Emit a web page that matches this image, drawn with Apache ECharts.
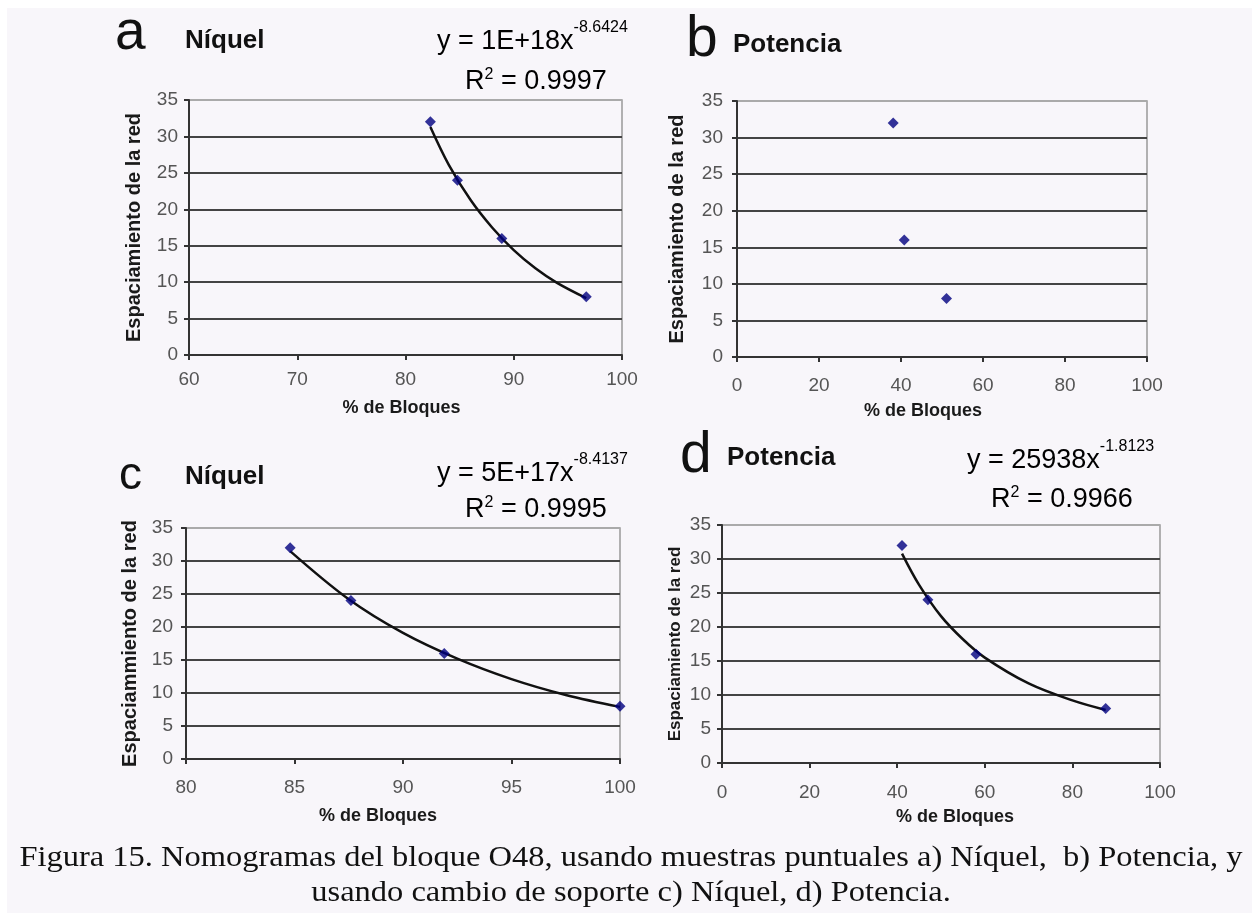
<!DOCTYPE html>
<html>
<head>
<meta charset="utf-8">
<title>Nomogramas del bloque O48</title>
<script src="https://cdn.jsdelivr.net/npm/echarts/dist/echarts.min.js"></script>
<style>
  html, body { margin: 0; padding: 0; background: #fff; }
  #container { width: 1257px; height: 913px; }
</style>
</head>
<body>
<div id="container"></div>
<script>
// a) Níquel - muestras puntuales
var niquelPuntX = [82.3, 84.8, 88.9, 96.7]
var niquelPuntY = [32, 24, 16, 8]
var niquelPuntTrendX = [82.3, 84, 86, 88, 90, 92, 94, 96.7]
var niquelPuntTrendY = [31.3, 26.1, 21.3, 17.5, 14.4, 11.9, 9.9, 7.8]

// b) Potencia - muestras puntuales
var potPuntX = [38.1, 40.8, 51.1]
var potPuntY = [32, 16, 8]

// c) Níquel - cambio de soporte
var niquelSopX = [84.8, 87.6, 91.9, 100]
var niquelSopY = [32, 24, 16, 8]
var niquelSopTrendX = [84.8, 87.5, 90, 92.5, 95, 97.5, 100]
var niquelSopTrendY = [31.5, 24.2, 19.1, 15.2, 12.1, 9.7, 7.9]

// d) Potencia - cambio de soporte
var potSopX = [41.1, 47.0, 58.0, 87.6]
var potSopY = [32, 24, 16, 8]
var potSopTrendX = [41.1, 45, 50, 55, 60, 70, 80, 87.6]
var potSopTrendY = [30.8, 26.2, 21.6, 18.2, 15.5, 11.7, 9.2, 7.8]

// ejes
var xRanges = [[60, 100, 10], [0, 100, 20], [80, 100, 5], [0, 100, 20]]
var yRange = [0, 35, 5]
var yNames = ['Espaciamiento de la red', 'Espaciamiento de la red', 'Espaciammiento de la red', 'Espaciamiento de la red']
var xName = '% de Bloques'

var dom = document.getElementById('container')
var myChart = echarts.init(dom)

var sans = "'Liberation Sans', Arial, sans-serif"

function pairs(xs, ys) {
  return xs.map(function(x, i) {
    return [x, ys[i]]
  })
}

var grids = [
  { left: 189, top: 100, width: 433, height: 255 },
  { left: 737, top: 101, width: 410, height: 256 },
  { left: 186, top: 528, width: 434, height: 231 },
  { left: 722, top: 525, width: 438, height: 238 }
]
var xLabelMargin = [15, 19, 19, 20]
var yLabelMargin = [11, 14, 13, 11]
var yNameGap = [45, 50, 46, 38]
var xNamePad = [[0, 8, 0, 0], [0, 38, 0, 0], [0, 50, 0, 0], [0, 0, 0, 28]]
var xNameGap = [44, 45, 48, 45]

var xAxes = xRanges.map(function(r, i) {
  return {
    type: 'value',
    gridIndex: i,
    min: r[0],
    max: r[1],
    interval: r[2],
    name: xName,
    nameLocation: 'middle',
    nameGap: xNameGap[i],
    nameTextStyle: {
      fontFamily: sans,
      fontWeight: 'bold',
      fontSize: 18,
      color: '#1a1a1a',
      padding: xNamePad[i]
    },
    axisLine: { lineStyle: { color: '#333', width: 2 } },
    axisTick: { show: true, length: 5, lineStyle: { color: '#333', width: 2 } },
    axisLabel: { margin: xLabelMargin[i], fontFamily: sans, fontSize: 19, color: '#555' },
    splitLine: { show: false }
  }
})

var yAxes = grids.map(function(g, i) {
  return {
    type: 'value',
    gridIndex: i,
    min: yRange[0],
    max: yRange[1],
    interval: yRange[2],
    name: yNames[i],
    nameLocation: 'middle',
    nameGap: yNameGap[i],
    nameTextStyle: {
      fontFamily: sans,
      fontWeight: 'bold',
      fontSize: i == 3 ? 17 : 20,
      color: '#1a1a1a'
    },
    axisLine: { lineStyle: { color: '#333', width: 2 } },
    axisTick: { show: true, length: 5, lineStyle: { color: '#333', width: 2 } },
    axisLabel: { margin: yLabelMargin[i], fontFamily: sans, fontSize: 19, color: '#555' },
    splitLine: {
      show: true,
      lineStyle: {
        color: ['#444', '#444', '#444', '#444', '#444', '#444', '#444', '#aaa'],
        width: 2
      }
    }
  }
})

function pointSeries(idx, xs, ys) {
  return {
    type: 'scatter',
    xAxisIndex: idx,
    yAxisIndex: idx,
    symbol: 'diamond',
    symbolSize: 11,
    itemStyle: { color: '#000080' },
    z: 3,
    data: pairs(xs, ys)
  }
}

function trendSeries(idx, xs, ys) {
  return {
    type: 'line',
    xAxisIndex: idx,
    yAxisIndex: idx,
    smooth: 0.35,
    showSymbol: false,
    lineStyle: { color: '#111', width: 2.5 },
    z: 2,
    data: pairs(xs, ys)
  }
}

var eqRich = {
  b: { fontFamily: sans, fontSize: 27, color: '#444', lineHeight: 44 },
  s: { fontFamily: sans, fontSize: 16, color: '#444', verticalAlign: 'top', lineHeight: 16 }
}
var r2Rich = {
  b: { fontFamily: sans, fontSize: 27, color: '#444', lineHeight: 30 },
  s: { fontFamily: sans, fontSize: 16, color: '#444', verticalAlign: 'top', lineHeight: 16 }
}

function label(x, y, text, size, weight) {
  return {
    type: 'text',
    x: x,
    y: y,
    style: {
      text: text,
      fontFamily: sans,
      fontSize: size,
      fontWeight: weight || 'normal',
      fill: '#111',
      verticalAlign: 'middle'
    }
  }
}

function equation(x, y, text, rich) {
  return {
    type: 'text',
    x: x,
    y: y,
    style: {
      text: text,
      rich: rich,
      verticalAlign: 'middle'
    }
  }
}

option = {
  backgroundColor: '#f8f6fa',
  animation: false,
  grid: grids.map(function(g) {
    return Object.assign({ show: true, borderColor: '#999', borderWidth: 1.5, backgroundColor: 'transparent' }, g)
  }),
  xAxis: xAxes,
  yAxis: yAxes,
  series: [
    trendSeries(0, niquelPuntTrendX, niquelPuntTrendY),
    pointSeries(0, niquelPuntX, niquelPuntY),
    pointSeries(1, potPuntX, potPuntY),
    trendSeries(2, niquelSopTrendX, niquelSopTrendY),
    pointSeries(2, niquelSopX, niquelSopY),
    trendSeries(3, potSopTrendX, potSopTrendY),
    pointSeries(3, potSopX, potSopY)
  ],
  graphic: [
    // bordes blancos
    { type: 'rect', shape: { x: 0, y: 0, width: 1257, height: 8 }, style: { fill: '#fff' } },
    { type: 'rect', shape: { x: 0, y: 0, width: 7, height: 913 }, style: { fill: '#fff' } },
    { type: 'rect', shape: { x: 1252, y: 0, width: 5, height: 913 }, style: { fill: '#fff' } },

    label(115, 34, 'a', 55),
    label(185, 41, 'Níquel', 26, 'bold'),
    equation(437, 42, '{b|y = 1E+18x}{s|-8.6424}', eqRich),
    equation(465, 82, '{b|R}{s|2}{b| = 0.9997}', r2Rich),

    label(686, 40, 'b', 57),
    label(733, 45, 'Potencia', 26, 'bold'),

    label(119, 476, 'c', 46),
    label(185, 477, 'Níquel', 26, 'bold'),
    equation(437, 474, '{b|y = 5E+17x}{s|-8.4137}', eqRich),
    equation(465, 510, '{b|R}{s|2}{b| = 0.9995}', r2Rich),

    label(680, 456, 'd', 57),
    label(727, 458, 'Potencia', 26, 'bold'),
    equation(967, 461, '{b|y = 25938x}{s|-1.8123}', eqRich),
    equation(991, 500, '{b|R}{s|2}{b| = 0.9966}', r2Rich),

    {
      type: 'text',
      x: 631,
      y: 876,
      scaleX: 1.12,
      style: {
        text: 'Figura 15. Nomogramas del bloque O48, usando muestras puntuales a) Níquel,  b) Potencia, y\nusando cambio de soporte c) Níquel, d) Potencia.',
        fontFamily: "'Liberation Serif', 'Times New Roman', serif",
        fontSize: 29,
        lineHeight: 35,
        fill: '#111',
        align: 'center',
        verticalAlign: 'middle'
      }
    }
  ]
}

myChart.setOption(option)
</script>
</body>
</html>
